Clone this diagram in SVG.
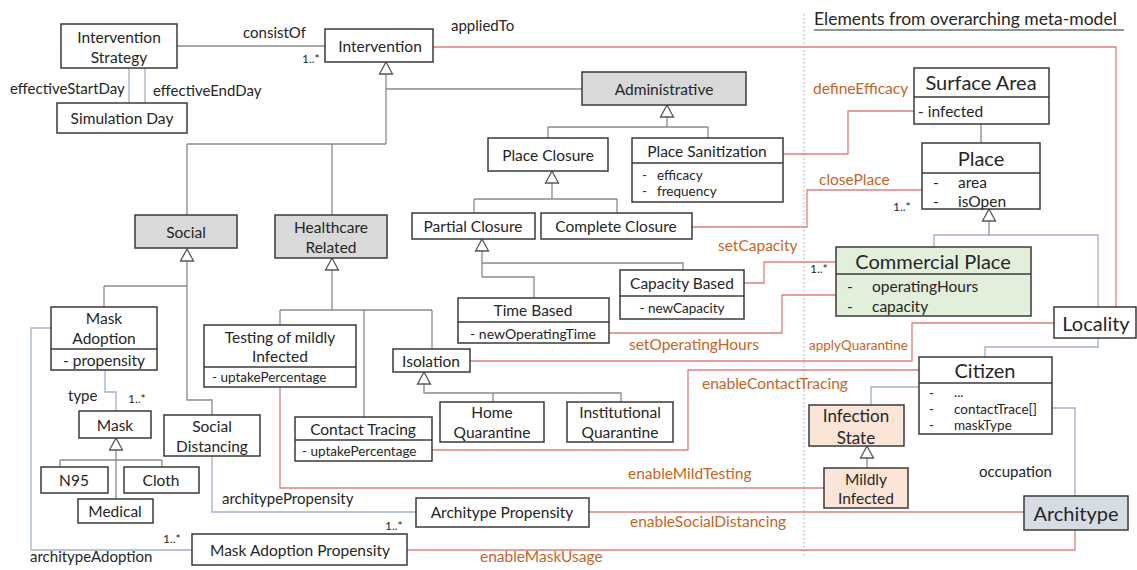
<svg xmlns="http://www.w3.org/2000/svg" xmlns:xlink="http://www.w3.org/1999/xlink" width="1137" height="570" viewBox="0 0 1137 570">
  <style>
    text { font-family: Lato, "Liberation Sans", sans-serif; fill: #262626; }
    .box { fill: #ffffff; stroke: #3a3a3a; stroke-width: 1.5; }
    .abs { fill: #d9d9d9; }
    .grn { fill: #e2efda; }
    .pch { fill: #fbe5d6; }
    .arc { fill: #d6dce4; }
    .div { stroke: #3a3a3a; stroke-width: 1.5; fill: none; }
    .c { text-anchor: middle; dominant-baseline: central; font-size: 15.5px; }
    .big { font-size: 20px; }
    .mid { font-size: 17px; }
    .attr { font-size: 15.5px; dominant-baseline: central; }
    .sm { font-size: 13.5px; dominant-baseline: central; }
    .lbl { font-size: 15px; }
    .rl { font-size: 15.5px; fill: #c5651f; }
    .mul { font-size: 12px; }
    .gen { fill: none; stroke: #8a8a8a; stroke-width: 1.3; }
    .asc { fill: none; stroke: #9fb0cc; stroke-width: 1.3; }
    .red { fill: none; stroke: #e07f7f; stroke-width: 1.3; }
    .tri { fill: #ffffff; stroke: #555555; stroke-width: 1.3; }
  </style>
  <defs>
    <path id="tri" class="tri" d="M0,0 L-6.5,12 L6.5,12 Z"/>
  </defs>

  <!-- boundary of the shared meta-model -->
  <line x1="804" y1="14" x2="804" y2="556" stroke="#a0a0a0" stroke-width="1" stroke-dasharray="1.5 2.5"/>
  <text x="814" y="25" class="lbl" style="font-size:17.5px">Elements from overarching meta-model</text>
  <line x1="814" y1="30" x2="1124" y2="30" stroke="#262626" stroke-width="1"/>

  <g id="connectors">
    <!-- generalization trees -->
    <path class="gen" d="M386,74 V144 M386,89 H582 M187,144 H386 M187,144 V215 M332,144 V215"/>
    <path class="gen" d="M667,117 V127 M548,127 H708 M548,127 V138 M708,127 V138"/>
    <path class="gen" d="M552,183 V199 M474,199 H617 M474,199 V213 M617,199 V213"/>
    <path class="gen" d="M482,251 V277 M482,263 H683 V270 M482,277 H534 V298"/>
    <path class="gen" d="M187,261 V400 H212 V415 M104,286 H187 M104,286 V307"/>
    <path class="gen" d="M332,270 V310 M280,310 H432 M280,310 V325 M364,310 V417 M432,310 V349"/>
    <path class="gen" d="M424,384 V393 H621 V402 M493,393 V402"/>
    <path class="gen" d="M116,450 V499 M60,460 H162 M60,460 V467 M162,460 V467"/>
    <path class="gen" d="M989,221 V235 M981,124 V143 M867,458 V468"/>
    <path class="gen" d="M177,46 H325"/>
    <!-- associations -->
    <path class="asc" d="M129,68 V103 M145,68 V103"/>
    <path class="asc" d="M934,247 V235 H1098 V307"/>
    <path class="asc" d="M51,328 H31 V550 H192"/>
    <path class="asc" d="M105,370 V392 H116 V411"/>
    <path class="asc" d="M212,456 V512 H416"/>
    <path class="asc" d="M1098,338 V347 H985 V357"/>
    <path class="asc" d="M919,387 H871 V405"/>
    <path class="asc" d="M1052,408 H1075 V496"/>
    <!-- links into the meta-model -->
    <path class="red" d="M433,47 H1116 V307"/>
    <path class="red" d="M783,154 H848 V111 H914"/>
    <path class="red" d="M692,227 H807 V190 H922"/>
    <path class="red" d="M744,283 H764 V262 H836"/>
    <path class="red" d="M609,333 H782 V295 H836"/>
    <path class="red" d="M470,361 H912 V323 H1054"/>
    <path class="red" d="M432,450 H688 V370 H919"/>
    <path class="red" d="M280,387 V488 H824"/>
    <path class="red" d="M589,512 H1024"/>
    <path class="red" d="M407,550 H1075 V530"/>
    <!-- generalization heads -->
    <use xlink:href="#tri" x="386" y="62"/>
    <use xlink:href="#tri" x="667" y="105"/>
    <use xlink:href="#tri" x="552" y="171"/>
    <use xlink:href="#tri" x="187" y="249"/>
    <use xlink:href="#tri" x="332" y="258"/>
    <use xlink:href="#tri" x="482" y="239"/>
    <use xlink:href="#tri" x="424" y="372"/>
    <use xlink:href="#tri" x="116" y="438"/>
    <use xlink:href="#tri" x="989" y="209"/>
    <use xlink:href="#tri" x="867" y="446"/>
    <!-- connector labels -->
    <text x="243" y="38" class="lbl">consistOf</text>
    <text x="302" y="63" class="mul">1..*</text>
    <text x="451" y="31" class="lbl">appliedTo</text>
    <text x="10" y="94" class="lbl">effectiveStartDay</text>
    <text x="153" y="96" class="lbl">effectiveEndDay</text>
    <text x="813" y="94" class="rl">defineEfficacy</text>
    <text x="819" y="185" class="rl">closePlace</text>
    <text x="893" y="211" class="mul">1..*</text>
    <text x="718" y="251" class="rl">setCapacity</text>
    <text x="810" y="273" class="mul">1..*</text>
    <text x="629" y="350" class="rl">setOperatingHours</text>
    <text x="809" y="350" class="rl" style="font-size:13.5px">applyQuarantine</text>
    <text x="702" y="389" class="rl">enableContactTracing</text>
    <text x="628" y="479" class="rl">enableMildTesting</text>
    <text x="630" y="527" class="rl">enableSocialDistancing</text>
    <text x="480" y="562" class="rl">enableMaskUsage</text>
    <text x="222" y="504" class="lbl">architypePropensity</text>
    <text x="30" y="562" class="lbl">architypeAdoption</text>
    <text x="68" y="401" class="lbl">type</text>
    <text x="128" y="403" class="mul">1..*</text>
    <text x="385" y="530" class="mul">1..*</text>
    <text x="163" y="543" class="mul">1..*</text>
    <text x="979" y="477" class="lbl">occupation</text>
  </g>

  <g id="intervention-strategy">
    <rect class="box" x="61" y="24" width="116" height="44"/>
    <text class="c" x="119" y="37">Intervention</text>
    <text class="c" x="119" y="57">Strategy</text>
  </g>
  <g id="simulation-day">
    <rect class="box" x="57" y="103" width="130" height="30"/>
    <text class="c" x="122" y="118">Simulation Day</text>
  </g>
  <g id="intervention">
    <rect class="box" x="325" y="29" width="108" height="33"/>
    <text class="c" x="380" y="46">Intervention</text>
  </g>
  <g id="administrative">
    <rect class="box abs" x="582" y="72" width="164" height="33"/>
    <text class="c" x="664" y="89">Administrative</text>
  </g>
  <g id="place-closure">
    <rect class="box" x="488" y="138" width="120" height="33"/>
    <text class="c" x="548" y="155">Place Closure</text>
  </g>
  <g id="place-sanitization">
    <rect class="box" x="632" y="138" width="151" height="64"/>
    <line class="div" x1="632" y1="163" x2="783" y2="163"/>
    <text class="c" x="707" y="151">Place Sanitization</text>
    <text class="sm" x="642" y="175">-</text>
    <text class="sm" x="657" y="175">efficacy</text>
    <text class="sm" x="642" y="191">-</text>
    <text class="sm" x="657" y="191">frequency</text>
  </g>
  <g id="partial-closure">
    <rect class="box" x="412" y="213" width="123" height="26"/>
    <text class="c" x="473" y="226">Partial Closure</text>
  </g>
  <g id="complete-closure">
    <rect class="box" x="541" y="213" width="151" height="26"/>
    <text class="c" x="616" y="226">Complete Closure</text>
  </g>
  <g id="capacity-based">
    <rect class="box" x="620" y="270" width="124" height="49"/>
    <line class="div" x1="620" y1="296" x2="744" y2="296"/>
    <text class="c" x="682" y="283">Capacity Based</text>
    <text class="c" x="682" y="308" style="font-size:13.5px">- newCapacity</text>
  </g>
  <g id="time-based">
    <rect class="box" x="458" y="298" width="151" height="45"/>
    <line class="div" x1="458" y1="322" x2="609" y2="322"/>
    <text class="c" x="533" y="310">Time Based</text>
    <text class="c" x="533" y="333" style="font-size:14px">- newOperatingTime</text>
  </g>
  <g id="social">
    <rect class="box abs" x="135" y="215" width="102" height="33"/>
    <text class="c" x="186" y="232">Social</text>
  </g>
  <g id="healthcare-related">
    <rect class="box abs" x="275" y="215" width="112" height="43"/>
    <text class="c" x="331" y="227">Healthcare</text>
    <text class="c" x="331" y="247">Related</text>
  </g>
  <g id="mask-adoption">
    <rect class="box" x="51" y="307" width="106" height="63"/>
    <line class="div" x1="51" y1="349" x2="157" y2="349"/>
    <text class="c" x="104" y="318">Mask</text>
    <text class="c" x="104" y="338">Adoption</text>
    <text class="c" x="104" y="360">- propensity</text>
  </g>
  <g id="testing-mildly-infected">
    <rect class="box" x="204" y="325" width="152" height="62"/>
    <line class="div" x1="204" y1="367" x2="356" y2="367"/>
    <text class="c" x="280" y="337">Testing of mildly</text>
    <text class="c" x="280" y="356">Infected</text>
    <text class="sm" x="212" y="377">- uptakePercentage</text>
  </g>
  <g id="isolation">
    <rect class="box" x="393" y="349" width="77" height="23"/>
    <text class="c" x="431" y="361">Isolation</text>
  </g>
  <g id="home-quarantine">
    <rect class="box" x="440" y="402" width="104" height="40"/>
    <text class="c" x="492" y="412">Home</text>
    <text class="c" x="492" y="432">Quarantine</text>
  </g>
  <g id="institutional-quarantine">
    <rect class="box" x="567" y="402" width="106" height="40"/>
    <text class="c" x="620" y="412">Institutional</text>
    <text class="c" x="620" y="432">Quarantine</text>
  </g>
  <g id="contact-tracing">
    <rect class="box" x="295" y="417" width="137" height="44"/>
    <line class="div" x1="295" y1="440" x2="432" y2="440"/>
    <text class="c" x="363" y="429">Contact Tracing</text>
    <text class="sm" x="302" y="451">- uptakePercentage</text>
  </g>
  <g id="mask">
    <rect class="box" x="79" y="411" width="72" height="27"/>
    <text class="c" x="115" y="425">Mask</text>
  </g>
  <g id="social-distancing">
    <rect class="box" x="164" y="415" width="96" height="41"/>
    <text class="c" x="212" y="426">Social</text>
    <text class="c" x="212" y="446">Distancing</text>
  </g>
  <g id="n95">
    <rect class="box" x="41" y="467" width="67" height="26"/>
    <text class="c" x="74" y="480">N95</text>
  </g>
  <g id="cloth">
    <rect class="box" x="124" y="467" width="75" height="26"/>
    <text class="c" x="161" y="480">Cloth</text>
  </g>
  <g id="medical">
    <rect class="box" x="78" y="499" width="75" height="24"/>
    <text class="c" x="115" y="511">Medical</text>
  </g>
  <g id="architype-propensity">
    <rect class="box" x="416" y="498" width="173" height="29"/>
    <text class="c" x="502" y="512">Architype Propensity</text>
  </g>
  <g id="mask-adoption-propensity">
    <rect class="box" x="192" y="534" width="215" height="31"/>
    <text class="c" x="300" y="550">Mask Adoption Propensity</text>
  </g>

  <g id="surface-area">
    <rect class="box" x="914" y="68" width="135" height="56"/>
    <line class="div" x1="914" y1="97" x2="1049" y2="97"/>
    <text class="c big" x="981" y="82">Surface Area</text>
    <text class="attr" x="918" y="111">- infected</text>
  </g>
  <g id="place">
    <rect class="box" x="922" y="143" width="118" height="66"/>
    <line class="div" x1="922" y1="173" x2="1040" y2="173"/>
    <text class="c big" x="981" y="158">Place</text>
    <text class="attr" x="933" y="182">-</text>
    <text class="attr" x="958" y="182">area</text>
    <text class="attr" x="933" y="201">-</text>
    <text class="attr" x="958" y="201">isOpen</text>
  </g>
  <g id="commercial-place">
    <rect class="box grn" x="836" y="247" width="195" height="69"/>
    <line class="div" x1="836" y1="274" x2="1031" y2="274"/>
    <text class="c big" x="933" y="261">Commercial Place</text>
    <text class="attr" x="847" y="286">-</text>
    <text class="attr" x="872" y="286">operatingHours</text>
    <text class="attr" x="847" y="306">-</text>
    <text class="attr" x="872" y="306">capacity</text>
  </g>
  <g id="locality">
    <rect class="box" x="1054" y="307" width="82" height="31"/>
    <text class="c big" x="1096" y="323">Locality</text>
  </g>
  <g id="citizen">
    <rect class="box" x="919" y="357" width="133" height="77"/>
    <line class="div" x1="919" y1="383" x2="1052" y2="383"/>
    <text class="c big" x="985" y="370">Citizen</text>
    <text class="sm" x="929" y="393">-</text>
    <text class="sm" x="954" y="392">...</text>
    <text class="sm" x="929" y="409">-</text>
    <text class="sm" x="954" y="409">contactTrace[]</text>
    <text class="sm" x="929" y="425">-</text>
    <text class="sm" x="954" y="425">maskType</text>
  </g>
  <g id="infection-state">
    <rect class="box pch" x="809" y="405" width="95" height="41"/>
    <text class="c mid" x="856" y="415">Infection</text>
    <text class="c mid" x="856" y="437">State</text>
  </g>
  <g id="mildly-infected">
    <rect class="box pch" x="824" y="468" width="84" height="40"/>
    <text class="c" x="866" y="479">Mildly</text>
    <text class="c" x="866" y="498">Infected</text>
  </g>
  <g id="architype">
    <rect class="box arc" x="1024" y="496" width="104" height="34"/>
    <text class="c big" x="1076" y="513">Architype</text>
  </g>
</svg>
